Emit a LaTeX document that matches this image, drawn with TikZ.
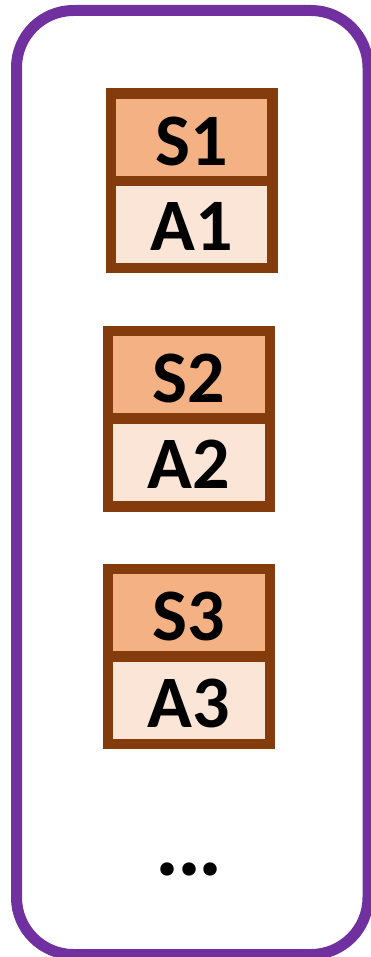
\documentclass[tikz,border=0pt]{standalone}
\usepackage{fontspec}
\setmainfont{Carlito}
\definecolor{borderpurple}{HTML}{7030A0}
\definecolor{boxbrown}{HTML}{843C0C}
\definecolor{sfill}{HTML}{F4B183}
\definecolor{afill}{HTML}{FBE5D6}
\begin{document}
\begin{tikzpicture}[x=1pt,y=-1pt,
  cell/.style={draw=boxbrown,line width=10.5pt},
  lbl/.style={anchor=base,inner sep=0pt,font=\fontsize{74}{74}\selectfont\bfseries},
  dotslbl/.style={anchor=base,inner sep=0pt,font=\fontsize{90}{90}\selectfont\bfseries}]
\useasboundingbox (0,0) rectangle (370,957);
\draw[borderpurple,line width=11pt,rounded corners=57pt] (16.5,10.5) rectangle (368,954.5);
% group 1
\filldraw[cell,fill=sfill] (110.8,93.5) rectangle (272.6,181.2);
\filldraw[cell,fill=afill] (110.8,181.2) rectangle (272.6,268.2);
\node[lbl] (s1) at (191.7,165.5) {S1};
\node[lbl] (a1) at (191.7,250.5) {A1};
% group 2
\filldraw[cell,fill=sfill] (107.9,331.2) rectangle (269.8,418.7);
\filldraw[cell,fill=afill] (107.9,418.7) rectangle (269.8,506.5);
\node[lbl] (s2) at (188.9,402) {S2};
\node[lbl] (a2) at (188.9,488.5) {A2};
% group 3
\filldraw[cell,fill=sfill] (107.9,569.2) rectangle (269.8,656.7);
\filldraw[cell,fill=afill] (107.9,656.7) rectangle (269.8,744.1);
\node[lbl] (s3) at (188.9,640.5) {S3};
\node[lbl] (a3) at (188.9,727) {A3};
\node[dotslbl] (dots) at (189,875.5) {.\kern-3pt.\kern-3pt.};
\end{tikzpicture}
\end{document}
